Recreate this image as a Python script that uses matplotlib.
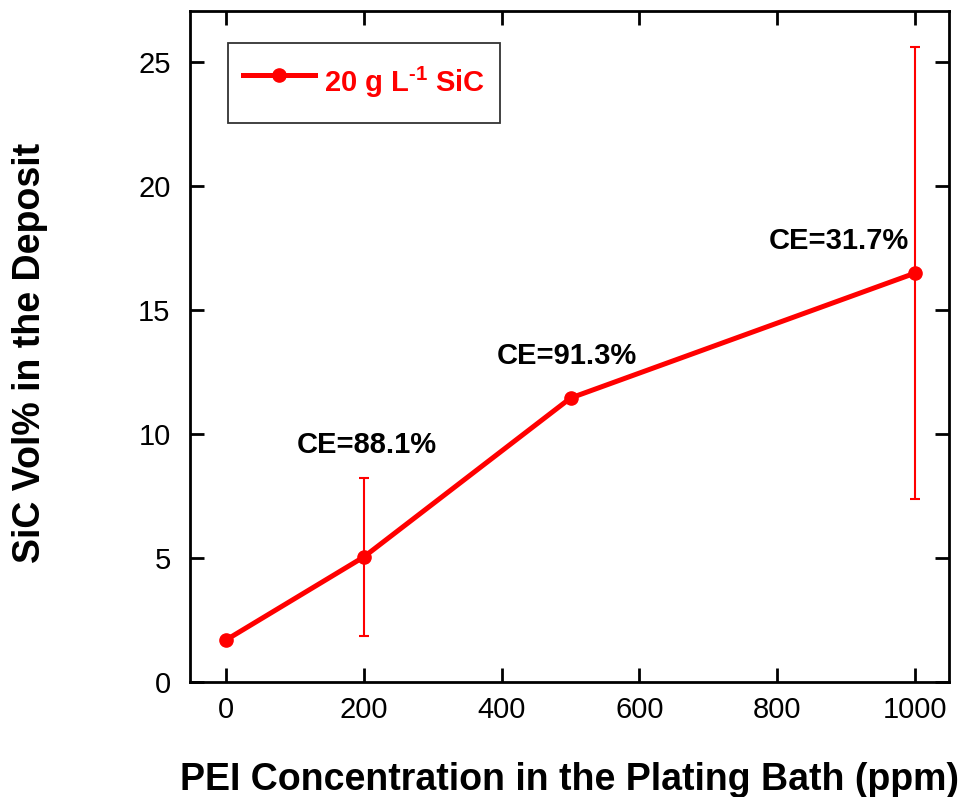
import matplotlib.pyplot as plt

plt.rcParams['font.family'] = ['Liberation Sans', 'DejaVu Sans']
plt.rcParams['mathtext.fontset'] = 'custom'
plt.rcParams['mathtext.rm'] = 'Liberation Sans:bold'
plt.rcParams['mathtext.bf'] = 'Liberation Sans:bold'

# PEI concentration (ppm) vs SiC volume fraction in the deposit
pei_ppm = [0, 200, 500, 1000]
sic_vol = [1.69, 5.04, 11.45, 16.49]
sic_err = [0, 3.17, 0, 9.1]
ce_labels = ['', 'CE=88.1%', 'CE=91.3%', 'CE=31.7%']
ce_offsets = [(0, 0), (5, 4.5), (-5, 1.7), (-111, 1.3)]

fig = plt.figure(figsize=(9.67, 7.97), dpi=100)
ax = fig.add_axes([0.1965, 0.1443, 0.7849, 0.8417])

red = '#ff0000'
ax.plot(pei_ppm, sic_vol, color=red, lw=3.6, marker='o', ms=9.5,
        label='20 g L$^{\\text{-1}}$ SiC')
ax.errorbar(pei_ppm, sic_vol, yerr=sic_err, fmt='none', ecolor=red,
            elinewidth=1.5, capsize=3.8, capthick=1.5)

for x, y, txt, (dx, dy) in zip(pei_ppm, sic_vol, ce_labels, ce_offsets):
    if txt:
        ax.text(x + dx, y + dy, txt, ha='center', va='center',
                fontsize=21, fontweight='bold')

ax.set_xlim(-52, 1049)
ax.set_ylim(0, 27.05)
ax.set_xticks([0, 200, 400, 600, 800, 1000])
ax.set_yticks([0, 5, 10, 15, 20, 25])

for s in ax.spines.values():
    s.set_linewidth(2)
ax.tick_params(direction='in', length=10, width=2, labelsize=21,
               top=True, right=True)
ax.tick_params(axis='x', pad=10)
ax.tick_params(axis='y', pad=14)

ax.set_xlabel('PEI Concentration in the Plating Bath (ppm)',
              fontsize=27, fontweight='bold')
ax.set_ylabel('SiC Vol% in the Deposit', fontsize=27, fontweight='bold')
ax.xaxis.set_label_coords(0.5, -0.119)
ax.yaxis.set_label_coords(-0.187, 0.49)

leg = ax.legend(loc='upper left', bbox_to_anchor=(0.05, 0.952),
                prop={'size': 21, 'weight': 'bold'}, fancybox=False,
                edgecolor='black', handlelength=2.5, handletextpad=0.3,
                handleheight=2.3, borderpad=0.5, borderaxespad=0)
leg.get_frame().set_linewidth(1.3)
for t in leg.get_texts():
    t.set_color(red)

fig.savefig('out.png', dpi=100)
